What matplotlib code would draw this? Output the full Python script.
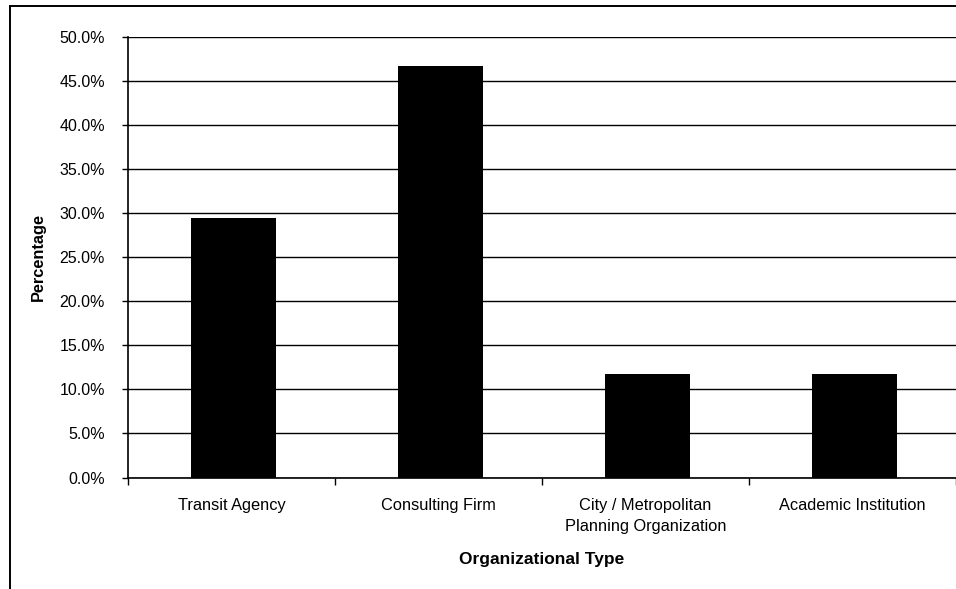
"""Respondents by organizational type: share of each group as a bar chart."""

import matplotlib

matplotlib.use("Agg")
import matplotlib.pyplot as plt
from matplotlib.lines import Line2D
from matplotlib.ticker import FuncFormatter, MultipleLocator

categories = [
    "Transit Agency",
    "Consulting Firm",
    "City / Metropolitan\nPlanning Organization",
    "Academic Institution",
]
percentages = [29.4, 46.7, 11.8, 11.8]

plt.rcParams["font.family"] = ["Liberation Sans", "DejaVu Sans"]

W, H = 956, 589
fig = plt.figure(figsize=(W / 100, H / 100), dpi=100)
ax = fig.add_axes([128 / W, 1 - 477.5 / H, 1 - 128 / W, (477.5 - 37) / H])

x = list(range(len(categories)))
ax.bar([i + 0.01 for i in x], percentages, width=0.41, color="black", zorder=3)

ax.set_xlim(-0.5, len(categories) - 0.5)
ax.set_ylim(0, 50)

# y axis: every 5%, gridlines in black behind bars
ax.yaxis.set_major_locator(MultipleLocator(5))
ax.yaxis.set_major_formatter(FuncFormatter(lambda v, _: f"{v:.1f}%"))
ax.grid(axis="y", color="black", linewidth=1.0, zorder=0)
ax.tick_params(axis="y", length=4, width=1, pad=12.5, labelsize=11.5)

# x axis: ticks at category boundaries, labels centred between them
ax.set_xticks([i - 0.5 for i in range(len(categories) + 1)])
ax.set_xticklabels([])
ax.set_xticks(x, minor=True)
ax.set_xticklabels(categories, minor=True, fontsize=11.8, linespacing=1.55)
ax.tick_params(axis="x", which="major", length=5, width=1, direction="out")
ax.tick_params(axis="x", which="minor", length=0, pad=14.5)

for side in ("top", "right"):
    ax.spines[side].set_visible(False)
for side in ("left", "bottom"):
    ax.spines[side].set_color("black")
    ax.spines[side].set_linewidth(1.2)

ax.set_ylabel("Percentage", fontsize=11.8, fontweight="bold", labelpad=10)
ax.set_xlabel("Organizational Type", fontsize=12.5, fontweight="bold", labelpad=13)

# outer frame around the chart area
fx, fy = 9.5 / W, 1 - 6 / H
fig.add_artist(Line2D([fx, fx], [0, fy], color="black", linewidth=1.4))
fig.add_artist(Line2D([fx, 1], [fy, fy], color="black", linewidth=1.4))

fig.savefig("out.png", dpi=100)
